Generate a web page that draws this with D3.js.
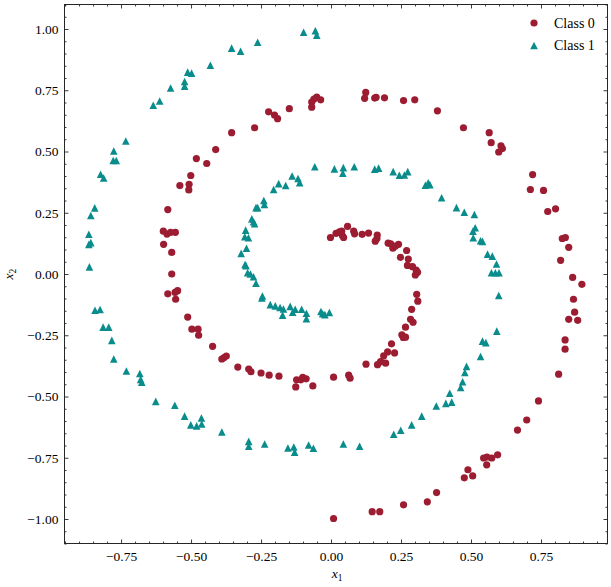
<!DOCTYPE html>
<html lang="en">
<head>
    <meta charset="UTF-8">
    <title>Spiral dataset</title>
    <script src="https://d3js.org/d3.v7.min.js"></script>
    <style>
        body {
            margin: 0;
            padding: 0;
            background: #fff;
        }

        svg text {
            font-family: "Liberation Serif", "DejaVu Serif", serif;
            fill: #000;
        }

        .frame {
            fill: none;
            stroke: #262626;
            stroke-width: 1;
        }

        .axis path {
            display: none;
        }

        .axis line {
            stroke: #262626;
            stroke-width: 0.9;
        }
    </style>
</head>
<body>
    <div id="chart"></div>

    <script>
        // Class 0 points (red circles)
        const class0Points = [
            [-0.069, 0.702], [-0.061, 0.714], [-0.051, 0.722], [-0.037, 0.711], [-0.069, 0.681],
            [-0.149, 0.675], [-0.223, 0.662], [-0.202, 0.649], [-0.191, 0.634], [-0.273, 0.597],
            [-0.355, 0.577], [-0.412, 0.508], [-0.481, 0.471], [-0.444, 0.451], [-0.501, 0.402],
            [-0.540, 0.361], [-0.507, 0.366], [-0.508, 0.343], [-0.583, 0.263], [-0.599, 0.175],
            [-0.586, 0.163], [-0.573, 0.170], [-0.556, 0.170], [-0.598, 0.121], [-0.569, 0.088],
            [-0.569, 0.000], [-0.583, -0.081], [-0.557, -0.075], [-0.548, -0.068], [-0.555, -0.103],
            [-0.512, -0.176], [-0.497, -0.225], [-0.475, -0.225], [-0.473, -0.250], [-0.423, -0.295],
            [-0.390, -0.347], [-0.382, -0.341], [-0.374, -0.335], [-0.333, -0.380], [-0.294, -0.388],
            [-0.286, -0.399], [-0.250, -0.404], [-0.221, -0.413], [-0.186, -0.417], [-0.123, -0.432],
            [-0.126, -0.461], [-0.108, -0.432], [-0.101, -0.422], [-0.089, -0.428], [-0.065, -0.457],
            [0.009, -0.421], [0.009, -0.998],
            [0.063, -0.413], [0.068, -0.425], [0.125, -0.368], [0.166, -0.370], [0.177, -0.358],
            [0.195, -0.364], [0.188, -0.334], [0.202, -0.318], [0.227, -0.322], [0.216, -0.285],
            [0.253, -0.248], [0.258, -0.259], [0.266, -0.258], [0.266, -0.217], [0.284, -0.185],
            [0.293, -0.197], [0.288, -0.144], [0.310, -0.111], [0.306, -0.083],
            [-0.002, 0.149], [0.018, 0.166], [0.030, 0.172], [0.038, 0.175], [0.041, 0.156],
            [0.045, 0.149], [0.059, 0.194], [0.081, 0.175], [0.084, 0.164], [0.111, 0.162],
            [0.134, 0.167], [0.165, 0.159], [0.164, 0.145], [0.158, 0.134], [0.204, 0.126],
            [0.213, 0.123], [0.221, 0.105], [0.230, 0.114], [0.241, 0.121], [0.270, 0.096],
            [0.248, 0.068], [0.276, 0.061], [0.273, 0.035], [0.291, 0.030], [0.304, 0.016],
            [0.309, 0.007], [0.301, -0.004],
            [0.124, 0.741], [0.120, 0.717], [0.156, 0.718], [0.161, 0.721], [0.191, 0.719],
            [0.259, 0.708], [0.299, 0.711], [0.380, 0.666], [0.473, 0.597], [0.565, 0.577],
            [0.572, 0.536], [0.607, 0.523], [0.612, 0.512], [0.599, 0.498], [0.720, 0.406],
            [0.712, 0.345], [0.759, 0.341], [0.774, 0.255], [0.802, 0.266], [0.826, 0.145],
            [0.837, 0.149], [0.849, 0.109], [0.820, 0.056], [0.863, -0.014],
            [0.896, -0.042], [0.866, -0.103], [0.870, -0.156], [0.849, -0.185], [0.881, -0.189],
            [0.836, -0.269], [0.836, -0.307], [0.813, -0.409], [0.741, -0.518], [0.699, -0.596],
            [0.666, -0.637], [0.595, -0.738], [0.574, -0.751], [0.557, -0.747], [0.545, -0.751],
            [0.556, -0.779], [0.489, -0.799], [0.506, -0.824], [0.476, -0.832], [0.377, -0.892],
            [0.344, -0.930], [0.259, -0.942], [0.174, -0.970], [0.147, -0.970]
        ];

        // Class 1 points (teal triangles)
        const class1Points = [
            [-0.098, 0.987], [-0.056, 0.993], [-0.051, 0.975], [-0.262, 0.946], [-0.355, 0.922],
            [-0.323, 0.909], [-0.431, 0.852], [-0.512, 0.824], [-0.498, 0.820], [-0.523, 0.786],
            [-0.523, 0.767], [-0.573, 0.759], [-0.612, 0.706], [-0.635, 0.689], [-0.733, 0.543],
            [-0.776, 0.502], [-0.778, 0.463], [-0.767, 0.463], [-0.823, 0.407], [-0.812, 0.392],
            [-0.844, 0.270], [-0.858, 0.239], [-0.865, 0.162], [-0.865, 0.121], [-0.858, 0.128],
            [-0.863, 0.029],
            [-0.843, -0.148], [-0.825, -0.145], [-0.814, -0.217], [-0.794, -0.217], [-0.783, -0.271],
            [-0.776, -0.347], [-0.731, -0.396], [-0.683, -0.406], [-0.680, -0.430], [-0.676, -0.442],
            [-0.626, -0.520], [-0.558, -0.536], [-0.523, -0.580], [-0.501, -0.616], [-0.480, -0.620],
            [-0.463, -0.588], [-0.462, -0.612], [-0.390, -0.645], [-0.294, -0.683], [-0.294, -0.703],
            [-0.237, -0.694], [-0.154, -0.710], [-0.133, -0.706], [-0.130, -0.727], [-0.080, -0.698],
            [-0.063, -0.711],
            [0.044, -0.694], [0.102, -0.703], [0.224, -0.654], [0.249, -0.638], [0.288, -0.616],
            [0.324, -0.580], [0.376, -0.539], [0.410, -0.528], [0.431, -0.523], [0.424, -0.487],
            [0.463, -0.463], [0.470, -0.440], [0.478, -0.402], [0.484, -0.377], [0.534, -0.337],
            [0.541, -0.274], [0.553, -0.280], [0.592, -0.233], [0.599, -0.088],
            [0.012, 0.429], [0.044, 0.434], [0.042, 0.411], [0.083, 0.438], [0.156, 0.428],
            [0.170, 0.432], [0.222, 0.418], [0.244, 0.403], [0.262, 0.404], [0.274, 0.418],
            [0.337, 0.362], [0.347, 0.372], [0.353, 0.365], [0.395, 0.311], [0.448, 0.271],
            [0.476, 0.252], [0.512, 0.243], [0.515, 0.189], [0.507, 0.175], [0.508, 0.148],
            [0.534, 0.136], [0.541, 0.133], [0.559, 0.081], [0.576, 0.073], [0.591, 0.041],
            [0.573, 0.005], [0.587, 0.005], [0.600, 0.005],
            [-0.058, 0.438], [-0.139, 0.400], [-0.118, 0.390], [-0.112, 0.373], [-0.162, 0.361],
            [-0.187, 0.369], [-0.205, 0.345], [-0.240, 0.300], [-0.238, 0.284], [-0.262, 0.271],
            [-0.268, 0.271], [-0.283, 0.225], [-0.277, 0.213], [-0.273, 0.205], [-0.305, 0.179],
            [-0.308, 0.152], [-0.295, 0.148], [-0.302, 0.105], [-0.321, 0.084], [-0.307, 0.039],
            [-0.304, 0.034], [-0.298, 0.005], [-0.288, 0.000], [-0.277, -0.011],
            [-0.268, -0.038], [-0.245, -0.090], [-0.247, -0.098], [-0.217, -0.125], [-0.199, -0.130],
            [-0.182, -0.137], [-0.170, -0.143], [-0.173, -0.168], [-0.146, -0.132], [-0.137, -0.156],
            [-0.128, -0.144], [-0.105, -0.144], [-0.088, -0.160], [-0.088, -0.182], [-0.036, -0.153],
            [-0.030, -0.162], [-0.022, -0.166], [-0.006, -0.157]
        ];

        // Tick values and legend labels
        const xTicks = [-0.75, -0.5, -0.25, 0, 0.25, 0.5, 0.75];
        const yTicks = [-1, -0.75, -0.5, -0.25, 0, 0.25, 0.5, 0.75, 1];
        const legendLabels = ["Class 0", "Class 1"];

        const red = "#9c1c31";
        const teal = "#0a8c8c";

        // Layout
        const width = 611, height = 587;
        const margin = {top: 4.5, right: 3.5, bottom: 43.5, left: 64.5};

        const svg = d3.select("#chart")
            .append("svg")
            .attr("width", width)
            .attr("height", height);

        const x = d3.scaleLinear()
            .domain([-0.952, 0.9875])
            .range([margin.left, width - margin.right]);

        const y = d3.scaleLinear()
            .domain([-1.1, 1.1])
            .range([height - margin.bottom, margin.top]);

        // Minor ticks every 0.05, skipping the majors
        const minorOf = (scale, majors) => d3.range(-40, 41)
            .map(i => Math.round(i * 5) / 100)
            .filter(v => v >= scale.domain()[0] && v <= scale.domain()[1])
            .filter(v => !majors.some(m => Math.abs(m - v) < 1e-9));

        const xMinor = minorOf(x, xTicks);
        const yMinor = minorOf(y, yTicks);
        const fmt = d3.format(".2f");

        const bottom = height - margin.bottom;
        const right = width - margin.right;

        // Bottom axis with labels
        svg.append("g")
            .attr("class", "axis")
            .attr("transform", `translate(0,${bottom})`)
            .call(d3.axisBottom(x).tickValues(xTicks).tickSize(-4).tickPadding(8).tickFormat(fmt))
            .call(g => g.selectAll("text").attr("font-size", 13.5).attr("font-family", null));
        svg.append("g")
            .attr("class", "axis")
            .attr("transform", `translate(0,${bottom})`)
            .call(d3.axisBottom(x).tickValues(xMinor).tickSize(-2).tickFormat(""));

        // Top axis, ticks only
        svg.append("g")
            .attr("class", "axis")
            .attr("transform", `translate(0,${margin.top})`)
            .call(d3.axisTop(x).tickValues(xTicks).tickSize(-4).tickFormat(""));
        svg.append("g")
            .attr("class", "axis")
            .attr("transform", `translate(0,${margin.top})`)
            .call(d3.axisTop(x).tickValues(xMinor).tickSize(-2).tickFormat(""));

        // Left axis with labels
        svg.append("g")
            .attr("class", "axis")
            .attr("transform", `translate(${margin.left},0)`)
            .call(d3.axisLeft(y).tickValues(yTicks).tickSize(-4).tickPadding(6).tickFormat(fmt))
            .call(g => g.selectAll("text").attr("font-size", 13.5).attr("font-family", null));
        svg.append("g")
            .attr("class", "axis")
            .attr("transform", `translate(${margin.left},0)`)
            .call(d3.axisLeft(y).tickValues(yMinor).tickSize(-2).tickFormat(""));

        // Right axis, ticks only
        svg.append("g")
            .attr("class", "axis")
            .attr("transform", `translate(${right},0)`)
            .call(d3.axisRight(y).tickValues(yTicks).tickSize(-4).tickFormat(""));
        svg.append("g")
            .attr("class", "axis")
            .attr("transform", `translate(${right},0)`)
            .call(d3.axisRight(y).tickValues(yMinor).tickSize(-2).tickFormat(""));

        // Frame
        svg.append("rect")
            .attr("class", "frame")
            .attr("x", margin.left)
            .attr("y", margin.top)
            .attr("width", right - margin.left)
            .attr("height", bottom - margin.top);

        // Triangle marker like matplotlib "^" (bbox centred)
        const triangle = s => {
            const h = s / 2;
            return `M0,${-h}L${h},${h}L${-h},${h}Z`;
        };

        // Points
        svg.append("g")
            .selectAll("circle")
            .data(class0Points)
            .join("circle")
            .attr("cx", d => x(d[0]))
            .attr("cy", d => y(d[1]))
            .attr("r", 3.6)
            .attr("fill", red);

        svg.append("g")
            .selectAll("path")
            .data(class1Points)
            .join("path")
            .attr("d", triangle(7.6))
            .attr("transform", d => `translate(${x(d[0])},${y(d[1])})`)
            .attr("fill", teal);

        // Legend
        const legend = svg.append("g").attr("transform", "translate(534,0)");
        legend.append("circle")
            .attr("cx", 0).attr("cy", 23).attr("r", 3.6).attr("fill", red);
        legend.append("path")
            .attr("d", triangle(7.6))
            .attr("transform", "translate(0,45.5)")
            .attr("fill", teal);
        legend.selectAll("text.lab")
            .data(legendLabels)
            .join("text")
            .attr("class", "lab")
            .attr("x", 20)
            .attr("y", (d, i) => 27.5 + i * 22)
            .attr("font-size", 14)
            .text(d => d);

        // Axis titles
        const xLabel = svg.append("text")
            .attr("x", (margin.left + right) / 2 + 1)
            .attr("y", 578)
            .attr("text-anchor", "middle")
            .attr("font-size", 13.5);
        xLabel.append("tspan").attr("font-style", "italic").text("x");
        xLabel.append("tspan").attr("font-size", 9.5).attr("dy", 3).text("1");

        const yLabel = svg.append("text")
            .attr("transform", `translate(13,${(margin.top + bottom) / 2}) rotate(-90)`)
            .attr("text-anchor", "middle")
            .attr("font-size", 13.5);
        yLabel.append("tspan").attr("font-style", "italic").text("x");
        yLabel.append("tspan").attr("font-size", 9.5).attr("dy", 3).text("2");
    </script>
</body>
</html>
